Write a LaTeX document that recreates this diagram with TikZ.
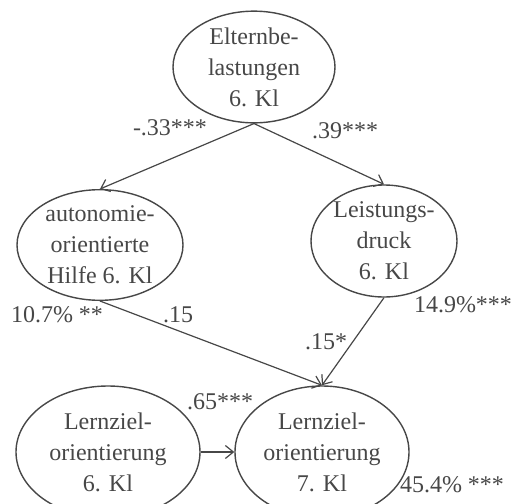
\documentclass[tikz,border=0pt]{standalone}
\usepackage{fontspec}
\setmainfont{Liberation Serif}
\usetikzlibrary{arrows.meta, shapes.geometric}

\colorlet{inkgray}{black!72}

\tikzset{
    factor/.style={ellipse, draw=inkgray, line width=0.7pt, inner sep=0pt,
        align=center, text=inkgray, font=\fontsize{12}{15.5}\selectfont},
    coef/.style={inner sep=0pt, text=inkgray, font=\fontsize{12}{14}\selectfont},
    effect/.style={draw=inkgray, line width=0.6pt, -{Straight Barb[length=4pt, width=6.5pt]}}
}

\begin{document}
\begin{tikzpicture}[x=0.5pt, y=-0.5pt]
    \clip (0,0) rectangle (526,504);
    \node [factor, minimum width=81pt, minimum height=53pt] (elt) at (254,67) {Elternbe-\\lastungen\\6. Kl};
    \node [factor, minimum width=83pt, minimum height=52pt] (auto) at (100,245) {autonomie-\\orientierte\\Hilfe 6. Kl};
    \node [factor, minimum width=73pt, minimum height=56pt] (druck) at (384,241) {Leistungs-\\druck\\6. Kl};
    \node [factor, minimum width=92pt, minimum height=66pt] (lz6) at (108,452) {Lernziel-\\orientierung\\6. Kl};
    \node [factor, minimum width=87pt, minimum height=66pt] (lz7) at (322,452) {Lernziel-\\orientierung\\7. Kl};

    \draw [effect] (elt.south) -- (auto.north);
    \draw [effect] (elt.south) -- (druck.north);
    \draw [effect] (auto.south) -- (lz7.north);
    \draw [effect] (druck.south) -- (lz7.north);
    \draw [effect] (lz6.east) -- (lz7.west);

    \node [coef] (c1) at (170,128) {-.33***};
    \node [coef] (c2) at (345,131) {.39***};
    \node [coef] (r1) at (57,315) {10.7\% **};
    \node [coef] (c3) at (178,315) {.15};
    \node [coef] (r2) at (463,305) {14.9\%***};
    \node [coef] (c4) at (326,342) {.15*};
    \node [coef] (c5) at (220,402) {.65***};
    \node [coef] (r3) at (452,485) {45.4\% ***};
\end{tikzpicture}
\end{document}
